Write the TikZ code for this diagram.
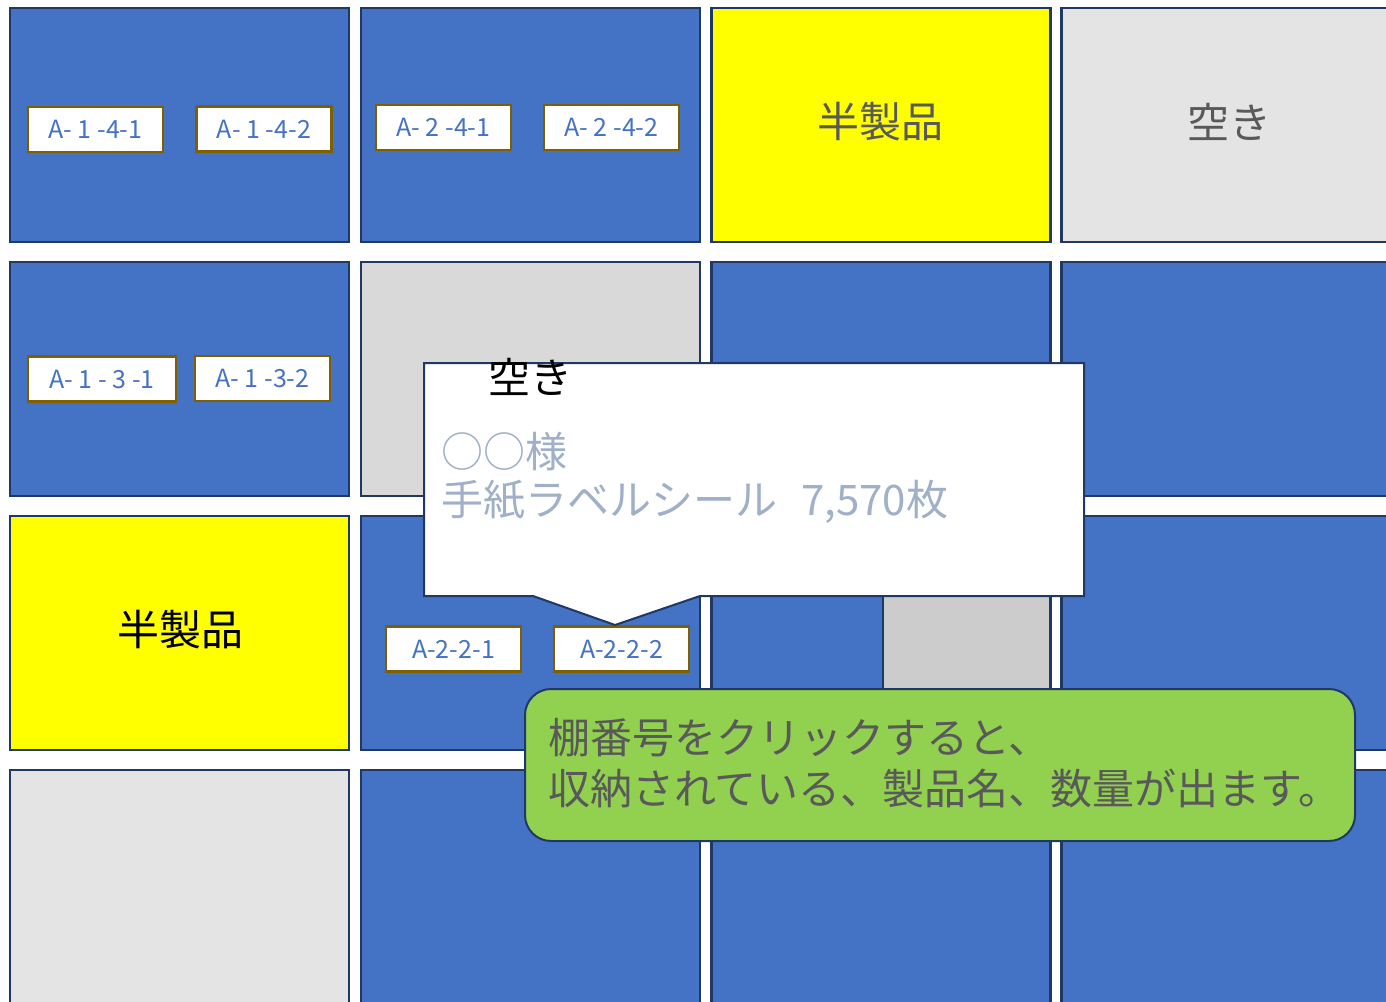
\documentclass[tikz,border=0pt]{standalone}
\usepackage{fontspec}
\setmainfont{Noto Sans CJK JP}
\definecolor{cellblue}{HTML}{4472C4}
\definecolor{navy}{HTML}{1F3864}
\definecolor{lgray}{HTML}{E4E4E4}
\definecolor{mgray}{HTML}{D9D9D9}
\definecolor{dgray}{HTML}{CCCCCC}
\definecolor{brownb}{HTML}{7F6000}
\definecolor{txtgray}{HTML}{595959}
\definecolor{slate}{HTML}{A0B0C8}
\definecolor{grn}{HTML}{92D050}
\definecolor{yel}{HTML}{FFFF00}
\tikzset{
  cell/.style={draw=navy, line width=2.5pt, rectangle, inner sep=0pt, minimum width=339pt, minimum height=234pt},
  lbl/.style={draw=brownb, fill=white, line width=2.5pt, rectangle, inner sep=0pt, minimum width=135pt, minimum height=45pt, text=cellblue, font=\fontsize{25}{29}\selectfont},
  big/.style={inner sep=0pt, font=\fontsize{42}{50}\selectfont},
}
\begin{document}
\begin{tikzpicture}[x=1pt,y=-1pt]
\useasboundingbox (0,0) rectangle (1386,1001);
\clip (0,0) rectangle (1386,1001);
\fill[white] (0,0) rectangle (1386,1001);
% row 1
\node[cell, fill=cellblue] (c11) at (179.5,125) {};
\node[cell, fill=cellblue] (c12) at (530.5,125) {};
\node[cell, fill=yel] (c13) at (881,125) {};
\node[cell, fill=lgray] (c14) at (1231,125) {};
% row 2
\node[cell, fill=cellblue] (c21) at (179.5,379) {};
\node[cell, fill=mgray] (c22) at (530.5,379) {};
\node[cell, fill=cellblue] (c23) at (881,379) {};
\node[cell, fill=cellblue] (c24) at (1231,379) {};
% row 3
\node[cell, fill=yel] (c31) at (179.5,633) {};
\node[cell, fill=cellblue] (c32) at (530.5,633) {};
\node[cell, fill=cellblue] (c33) at (881,633) {};
\node[cell, fill=cellblue] (c34) at (1231,633) {};
% row 4
\node[cell, fill=lgray] (c41) at (179.5,887) {};
\node[cell, fill=cellblue] (c42) at (530.5,887) {};
\node[cell, fill=cellblue] (c43) at (881,887) {};
\node[cell, fill=cellblue] (c44) at (1231,887) {};
% small gray area in row 3, col 3
\node[draw=navy, line width=2.5pt, fill=dgray, inner sep=0pt, minimum width=167pt, minimum height=170pt] (g33) at (966.5,645) {};
% cell texts
\node[big, text=txtgray] (t13) at (880,122) {半製品};
\node[big, text=txtgray] (t14) at (1229,122) {空き};
\node[big, text=black] (t31) at (180,630) {半製品};
% labels
\node[lbl] (a141) at (95.5,129.5) {A- 1 -4-1};
\node[lbl] (a142) at (264,129) {A- 1 -4-2};
\node[lbl] (a241) at (443.5,127.5) {A- 2 -4-1};
\node[lbl] (a242) at (611.5,127.5) {A- 2 -4-2};
\node[lbl, minimum width=148pt] (a131) at (102,379) {A- 1 - 3 -1};
\node[lbl] (a132) at (262.5,378.5) {A- 1 -3-2};
\node[lbl] (a221) at (453.5,649) {A-2-2-1};
\node[lbl] (a222) at (621.5,649) {A-2-2-2};
% callout
\draw[draw=navy, fill=white, line width=2pt, line join=miter]
  (424,363) -- (1084,363) -- (1084,596) -- (700,596) -- (615,625) -- (533,596) -- (424,596) -- cycle;
\node[big, anchor=west, text=slate] (cl1) at (441,452) {○○様};
\node[big, anchor=west, text=slate] (cl2) at (441,502) {手紙ラベルシール\hspace{24pt}7,570枚};
\node[big, text=black] (t22) at (530,377) {空き};
% green note
\node[draw=navy, fill=grn, line width=2pt, rounded corners=26pt, inner sep=0pt, minimum width=830pt, minimum height=152pt] (note) at (940,765) {};
\node[inner sep=0pt, anchor=west, align=left, text=txtgray, font=\fontsize{42}{51}\selectfont] (notetext) at (548,763) {棚番号をクリックすると、\\収納されている、製品名、数量が出ます。};
\end{tikzpicture}
\end{document}
